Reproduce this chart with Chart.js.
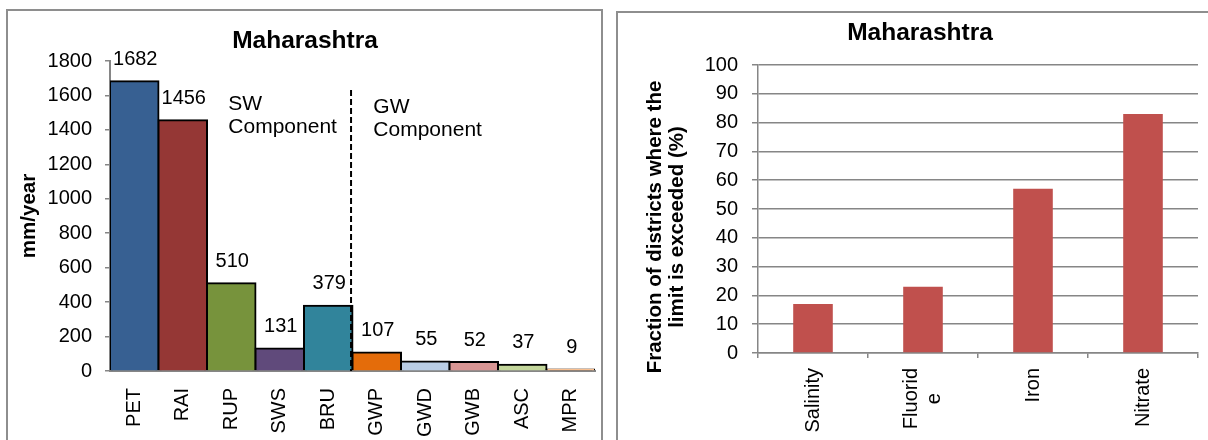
<!DOCTYPE html>
<html>
<head>
<meta charset="utf-8">
<script src="https://cdn.jsdelivr.net/npm/chart.js@4.4.1/dist/chart.umd.min.js"></script>
<style>
  html, body { margin: 0; padding: 0; background: #fff; overflow: hidden; }
  #stage { position: relative; width: 1208px; height: 440px; }
  .frame { position: absolute; border: 2px solid #8e8e8e; box-sizing: border-box; }
  #frameL { left: 6px; top: 9px; width: 597px; height: 470px; }
  #frameR { left: 616px; top: 11px; width: 620px; height: 470px; }
  canvas { position: absolute; top: 0; }
  #waterChart { left: 0; }
  #qualityChart { left: 604px; }
</style>
</head>
<body>
<div id="stage">
  <div class="frame" id="frameL"></div>
  <div class="frame" id="frameR"></div>
  <canvas id="waterChart" width="604" height="440"></canvas>
  <canvas id="qualityChart" width="604" height="440"></canvas>
</div>
<script>
const FONT = "'Liberation Sans', Arial, Helvetica, sans-serif";
Chart.defaults.font.family = FONT;
Chart.defaults.color = '#000';
const AXIS_GREY = '#868686';

// Water balance components, mm/year
const waterCategories = ['PET', 'RAI', 'RUP', 'SWS', 'BRU', 'GWP', 'GWD', 'GWB', 'ASC', 'MPR'];
const waterValues = [1682, 1456, 510, 131, 379, 107, 55, 52, 37, 9];
const waterColors = ['#376092', '#953735', '#77933C', '#604A7B', '#31849B',
                     '#E46C0A', '#B9CDE5', '#D99694', '#C3D69B', '#FAC090'];
const waterAxisMax = 1800;
const waterAxisStep = 200;

// Groundwater quality: share of districts where the limit is exceeded, %
const qualityCategories = ['Salinity', ['Fluorid', 'e'], 'Iron', 'Nitrate'];
const qualityValues = [17, 23, 57, 83];
const qualityAxisMax = 100;
const qualityAxisStep = 10;

const chartTitle = 'Maharashtra';
const waterAxisTitle = 'mm/year';
const qualityAxisTitle = ['Fraction of districts where the', 'limit is exceeded (%)'];
const swNote = ['SW', 'Component'];
const gwNote = ['GW', 'Component'];

// placement of the SW / GW split (category units, axis units)
const dividerAt = 4.47;
const dividerTop = 1632;
const swNoteAt = { x: 1.94, y: 1552 };
const gwNoteAt = { x: 4.93, y: 1530 };

// plain integer tick text (no thousands separator)
const plainTick = v => String(v);

// numbers printed above each water-balance bar
const valueLabels = {
  id: 'valueLabels',
  afterDatasetsDraw(chart) {
    const ctx = chart.ctx;
    const meta = chart.getDatasetMeta(0);
    ctx.save();
    ctx.font = '20px ' + FONT;
    ctx.fillStyle = '#000';
    ctx.textAlign = 'center';
    ctx.textBaseline = 'middle';
    meta.data.forEach((bar, i) => {
      ctx.fillText(String(waterValues[i]), bar.x + 1, bar.y - 22);
    });
    ctx.restore();
  }
};

// dashed line splitting surface-water and groundwater components, with notes
const componentSplit = {
  id: 'componentSplit',
  afterDatasetsDraw(chart) {
    const { ctx, scales: { x, y } } = chart;
    ctx.save();
    const px = x.getPixelForValue(dividerAt);
    ctx.strokeStyle = '#000';
    ctx.lineWidth = 2;
    ctx.setLineDash([6, 3]);
    ctx.beginPath();
    ctx.moveTo(px, y.getPixelForValue(dividerTop));
    ctx.lineTo(px, y.getPixelForValue(0));
    ctx.stroke();
    ctx.setLineDash([]);
    ctx.font = '21px ' + FONT;
    ctx.fillStyle = '#000';
    ctx.textAlign = 'left';
    ctx.textBaseline = 'middle';
    [[swNote, swNoteAt], [gwNote, gwNoteAt]].forEach(([lines, at]) => {
      const tx = x.getPixelForValue(at.x);
      const ty = y.getPixelForValue(at.y);
      lines.forEach((s, k) => ctx.fillText(s, tx, ty + k * 23));
    });
    ctx.restore();
  }
};

// two-line, centred y-axis title of the quality chart
const qualityYTitle = {
  id: 'qualityYTitle',
  afterDraw(chart) {
    const { ctx, chartArea } = chart;
    ctx.save();
    ctx.font = 'bold 20.5px ' + FONT;
    ctx.fillStyle = '#000';
    ctx.textAlign = 'center';
    ctx.textBaseline = 'middle';
    const cy = (chartArea.top + chartArea.bottom) / 2 + 18;
    ctx.translate(chartArea.left - 103, cy);
    ctx.rotate(-Math.PI / 2);
    qualityAxisTitle.forEach((s, k) => ctx.fillText(s, 0, k * 22));
    ctx.restore();
  }
};

// vertical category labels of the quality chart, line blocks centred on each tick
const qualityXLabels = {
  id: 'qualityXLabels',
  afterDraw(chart) {
    const { ctx, scales: { x } } = chart;
    ctx.save();
    ctx.font = '20px ' + FONT;
    ctx.fillStyle = '#000';
    ctx.textAlign = 'center';
    ctx.textBaseline = 'middle';
    const lh = 23;
    qualityCategories.forEach((label, i) => {
      const lines = [].concat(label);
      const w = Math.max(...lines.map(s => ctx.measureText(s).width));
      ctx.save();
      ctx.translate(x.getPixelForValue(i), x.top + 15);
      ctx.rotate(-Math.PI / 2);
      lines.forEach((s, k) => ctx.fillText(s, -w / 2, (k - (lines.length - 1) / 2) * lh));
      ctx.restore();
    });
    ctx.restore();
  }
};

new Chart(document.getElementById('waterChart'), {
  type: 'bar',
  data: {
    labels: waterCategories,
    datasets: [{
      data: waterValues,
      backgroundColor: waterColors,
      borderColor: '#000',
      borderWidth: 2,
      inflateAmount: 1,
      barPercentage: 1,
      categoryPercentage: 1
    }]
  },
  options: {
    responsive: false,
    animation: false,
    devicePixelRatio: 1,
    layout: { padding: { left: 15, right: 9, top: 0, bottom: 0 } },
    plugins: {
      legend: { display: false },
      tooltip: { enabled: false },
      title: {
        display: true,
        text: chartTitle,
        color: '#000',
        font: { size: 24.5, weight: 'bold', lineHeight: 1.2 },
        padding: { top: 27, bottom: 4.6 }
      }
    },
    scales: {
      x: {
        grid: { display: false, drawTicks: true, tickLength: 17 },
        border: { display: true, color: AXIS_GREY, width: 2 },
        ticks: { font: { size: 20 }, color: '#000', padding: 0, minRotation: 90, maxRotation: 90, autoSkip: false },
        afterFit: s => { s.height = 69; }
      },
      y: {
        min: 0,
        max: waterAxisMax,
        grid: { display: true, drawOnChartArea: false, drawTicks: true, tickLength: 5, color: AXIS_GREY, lineWidth: 1.5 },
        border: { display: true, color: AXIS_GREY, width: 2 },
        ticks: { stepSize: waterAxisStep, font: { size: 20 }, color: '#000', padding: 13, callback: plainTick },
        title: { display: true, text: waterAxisTitle, color: '#000', font: { size: 20.5, weight: 'bold', lineHeight: 1.2 }, padding: { top: 2, bottom: 0 } },
        afterFit: s => { s.width = 95; }
      }
    }
  },
  plugins: [valueLabels, componentSplit]
});

new Chart(document.getElementById('qualityChart'), {
  type: 'bar',
  data: {
    labels: qualityCategories,
    datasets: [{
      data: qualityValues,
      backgroundColor: '#C0504D',
      borderWidth: 0,
      inflateAmount: 0,
      barPercentage: 0.36,
      categoryPercentage: 1
    }]
  },
  options: {
    responsive: false,
    animation: false,
    devicePixelRatio: 1,
    layout: { padding: { left: 38, right: 10, top: 0, bottom: 0 } },
    plugins: {
      legend: { display: false },
      tooltip: { enabled: false },
      title: {
        display: true,
        text: chartTitle,
        color: '#000',
        font: { size: 24.5, weight: 'bold', lineHeight: 1.2 },
        padding: { top: 18.6, bottom: 17 }
      }
    },
    scales: {
      x: {
        grid: { display: true, drawOnChartArea: false, drawTicks: true, tickLength: 5, color: AXIS_GREY, lineWidth: 1.5 },
        border: { display: true, color: AXIS_GREY, width: 1.5 },
        ticks: { display: false },
        afterFit: s => { s.height = 87; }
      },
      y: {
        min: 0,
        max: qualityAxisMax,
        grid: { display: true, drawOnChartArea: true, drawTicks: true, tickLength: 6, color: AXIS_GREY, lineWidth: 1.5 },
        border: { display: true, color: AXIS_GREY, width: 1.5 },
        ticks: { stepSize: qualityAxisStep, font: { size: 20 }, color: '#000', padding: 14, callback: plainTick },
        afterFit: s => { s.width = 116; }
      }
    }
  },
  plugins: [qualityYTitle, qualityXLabels]
});
</script>
</body>
</html>
